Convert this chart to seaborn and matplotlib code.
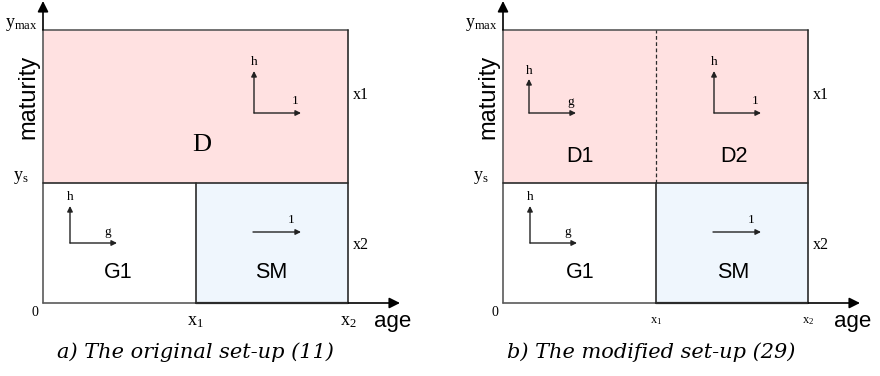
import matplotlib
matplotlib.use("Agg")
import matplotlib.pyplot as plt
import seaborn as sns

# Domain boundaries: age axis (0, x1, x2) and maturity axis (0, y_s, y_max)
age_bounds = [0.0, 1.0, 2.0]
maturity_bounds = [0.0, 1.0, 2.275]
age_tick_labels = ["x_1", "x_2"]
maturity_tick_labels = ["y_s", "y_{max}"]
edge_labels = ["x1", "x2"]

# Regions of each set-up: name, age-bound index range, maturity-bound index range
regions_a = [("D", (0, 2), (1, 2)), ("G1", (0, 1), (0, 1)), ("SM", (1, 2), (0, 1))]
regions_b = [("D1", (0, 1), (1, 2)), ("D2", (1, 2), (1, 2)),
             ("G1", (0, 1), (0, 1)), ("SM", (1, 2), (0, 1))]
captions = ["a) The original set-up (11)", "b) The modified set-up (29)"]

sns.set_theme(style="white")
plt.rcParams["text.color"] = "black"
SANS = "Liberation Sans"
SERIF = "Liberation Serif"

fill = {"D": "#ffe1e1", "D1": "#ffe1e1", "D2": "#ffe1e1", "G1": "#ffffff", "SM": "#eff6fd"}
BOX = "#2b2b2b"
AXIS = "#5a5a5a"

# pixel scale of one data unit
SX, SY = 152.7, 120.0
BASE = 303.0

fig = plt.figure(figsize=(8.8, 3.76), dpi=100)


def make_axes(left_px, origin_px):
    ax = fig.add_axes([left_px / 880, 0, 440 / 880, 1])
    ax.set_xlim((left_px - origin_px) / SX, (left_px + 440 - origin_px) / SX)
    ax.set_ylim((BASE - 376) / SY, BASE / SY)
    ax.axis("off")
    return ax


def P(ox, px, py):
    return (px - ox) / SX, (BASE - py) / SY


def draw_panel(ax, ox, regions, small_ticks):
    xb, yb = age_bounds, maturity_bounds
    # shaded regions
    for name, (i0, i1), (j0, j1) in regions:
        ax.fill_between([xb[i0], xb[i1]], yb[j0], yb[j1], color=fill[name], lw=0, zorder=1)
    # axes with arrows
    ax.plot([0, 0], [0, yb[2]], color=AXIS, lw=1.2, zorder=3)
    ax.plot([0, xb[1]], [0, 0], color=AXIS, lw=1.2, zorder=3)
    ax.annotate("", xy=P(ox, ox, 1), xytext=(0, yb[2]),
                arrowprops=dict(arrowstyle="-|>", color="black", lw=1.2,
                                mutation_scale=16, shrinkA=0, shrinkB=0), zorder=4)
    ax.annotate("", xy=P(ox, ox + 357, BASE), xytext=(xb[2], 0),
                arrowprops=dict(arrowstyle="-|>", color="black", lw=1.2,
                                mutation_scale=16, shrinkA=0, shrinkB=0), zorder=4)
    # region boundaries
    ax.plot([0, xb[2]], [yb[2], yb[2]], color=AXIS, lw=1.2, zorder=3)
    ax.plot([xb[2], xb[2]], [0, yb[2]], color=BOX, lw=1.2, zorder=3)
    ax.plot([0, xb[2]], [yb[1], yb[1]], color=BOX, lw=1.2, zorder=3)
    ax.plot([xb[1], xb[1]], [0, yb[1]], color=BOX, lw=1.2, zorder=3)
    ax.plot([xb[1], xb[2]], [0, 0], color=BOX, lw=1.6, zorder=3)
    if len(regions) == 4:
        ax.plot([xb[1], xb[1]], [yb[1], yb[2]], color=BOX, lw=0.9,
                ls=(0, (3, 2)), zorder=3)

    # tick labels
    tfs = 9 if small_ticks else 13
    ax.text(*P(ox, ox - 8, 312), "0", family=SERIF, fontsize=10, ha="center", va="center")
    for k, lab in enumerate(age_tick_labels):
        ax.text(xb[k + 1], P(ox, 0, 321)[1], r"$\mathregular{%s}$" % lab,
                family=SERIF, fontsize=tfs, ha="center", va="center")
    for k, lab in enumerate(maturity_tick_labels):
        ax.text(P(ox, ox - 22, 0)[0], yb[k + 1] + 0.045, r"$\mathregular{%s}$" % lab,
                family=SERIF, fontsize=13, ha="center", va="center")
    ax.text(*P(ox, ox + 318, 95), edge_labels[0], family=SERIF, fontsize=11.5, ha="center", va="center")
    ax.text(*P(ox, ox + 318, 245), edge_labels[1], family=SERIF, fontsize=11.5, ha="center", va="center")

    # axis titles
    ax.text(*P(ox, ox - 15, 97), "maturity", family=SANS, fontsize=17, rotation=90,
            ha="center", va="center")
    ax.text(*P(ox, ox + 350, 322), "age", family=SANS, fontsize=16, ha="center", va="center")


def vec(ax, ox, start, end, label, lpos):
    ax.annotate("", xy=P(ox, *end), xytext=P(ox, *start),
                arrowprops=dict(arrowstyle="-|>", color="#222222", lw=1.0,
                                mutation_scale=8, shrinkA=0, shrinkB=0), zorder=5)
    ax.text(*P(ox, *lpos), label, family=SERIF, fontsize=9.5, ha="center", va="center", zorder=5)


# ---- panel a ----
axa = make_axes(0, 43)
draw_panel(axa, 43, regions_a, small_ticks=False)
vec(axa, 43, (254, 113), (254, 71), "h", (254, 62))
vec(axa, 43, (254, 113), (301, 113), "1", (295, 101))
vec(axa, 43, (70, 243), (70, 206), "h", (70, 197))
vec(axa, 43, (70, 243), (117, 243), "g", (108, 232))
vec(axa, 43, (253, 232), (301, 232), "1", (291, 220))
axa.text(*P(43, 202, 145), "D", family=SERIF, fontsize=19, ha="center", va="center")
axa.text(*P(43, 118, 272), "G1", family=SANS, fontsize=15.5, ha="center", va="center")
axa.text(*P(43, 271, 272), "SM", family=SANS, fontsize=15.5, ha="center", va="center")
axa.text(*P(43, 195, 352), captions[0], family="DejaVu Serif", style="italic",
         fontsize=15, ha="center", va="center")

# ---- panel b ----
axb = make_axes(440, 503)
draw_panel(axb, 503, regions_b, small_ticks=True)
vec(axb, 503, (529, 113), (529, 79), "h", (529, 71))
vec(axb, 503, (529, 113), (576, 113), "g", (571, 102))
vec(axb, 503, (714, 113), (714, 71), "h", (714, 62))
vec(axb, 503, (714, 113), (761, 113), "1", (755, 101))
vec(axb, 503, (530, 243), (530, 206), "h", (530, 197))
vec(axb, 503, (530, 243), (577, 243), "g", (568, 232))
vec(axb, 503, (713, 232), (761, 232), "1", (751, 220))
axb.text(*P(503, 580, 157), "D1", family=SANS, fontsize=15.5, ha="center", va="center")
axb.text(*P(503, 734, 157), "D2", family=SANS, fontsize=15.5, ha="center", va="center")
axb.text(*P(503, 580, 272), "G1", family=SANS, fontsize=15.5, ha="center", va="center")
axb.text(*P(503, 733, 272), "SM", family=SANS, fontsize=15.5, ha="center", va="center")
axb.text(*P(503, 651, 352), captions[1], family="DejaVu Serif", style="italic",
         fontsize=15, ha="center", va="center")

fig.savefig("out.png", dpi=100)
